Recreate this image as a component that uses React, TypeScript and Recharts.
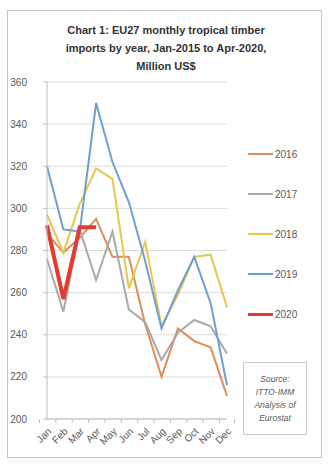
import React from "react"
import { CartesianGrid, Line, LineChart, XAxis, YAxis } from "recharts"

const months = ["Jan", "Feb", "Mar", "Apr", "May", "Jun", "Jul", "Aug", "Sep", "Oct", "Nov", "Dec"]
const y2016 = [288, 279, 286, 295, 277, 277, 245, 220, 243, 237, 234, 211]
const y2017 = [276, 251, 290, 266, 289, 252, 246, 228, 241, 247, 244, 231]
const y2018 = [297, 279, 302, 319, 314, 262, 284, 244, 259, 277, 278, 253]
const y2019 = [320, 290, 289, 350, 322, 303, 275, 243, 261, 277, 255, 216]
const y2020 = [292, 257, 291, 291]
const yTicks = [200, 220, 240, 260, 280, 300, 320, 340, 360]

const data = months.map((m, i) => ({
  month: m,
  "2016": y2016[i],
  "2017": y2017[i],
  "2018": y2018[i],
  "2019": y2019[i],
  "2020": y2020[i],
}))

const series = [
  { key: "2016", color: "#dc8f58", width: 2 },
  { key: "2017", color: "#a9a9a9", width: 2 },
  { key: "2018", color: "#e4c84e", width: 2 },
  { key: "2019", color: "#6f9fd2", width: 2 },
  { key: "2020", color: "#e23a35", width: 4 },
]

const FONT = "'Liberation Sans', Arial, sans-serif"
const TEXT = "#595959"

function MonthTick(props: any) {
  const { x = 0, y = 0, payload, index } = props
  const half = 7.5
  return (
    <g>
      <line x1={x - half} y1={y - 14} x2={x - half} y2={y - 10} stroke="#bfbfbf" />
      {index === 11 && <line x1={x + half} y1={y - 14} x2={x + half} y2={y - 10} stroke="#bfbfbf" />}
      <text
        transform={`translate(${x + 5},${y - 1}) rotate(-45)`}
        textAnchor="end"
        fill={TEXT}
        fontSize={10}
        fontFamily={FONT}
      >
        {payload.value}
      </text>
    </g>
  )
}

export default function App() {
  return (
    <div style={{ position: "absolute", left: 0, top: 0, width: 328, height: 468, background: "#fff" }}>
      <div
        style={{
          position: "absolute",
          left: 7,
          top: 10,
          width: 315,
          height: 448,
          border: "1px solid #c4c4c4",
          boxSizing: "border-box",
        }}
      />
      <div
        style={{
          position: "absolute",
          left: 20,
          top: 21,
          width: 292,
          textAlign: "center",
          fontFamily: FONT,
          fontWeight: 700,
          fontSize: 11,
          lineHeight: "18px",
          color: "#333",
        }}
      >
        Chart 1: EU27 monthly tropical timber
        <br />
        imports by year, Jan-2015 to Apr-2020,
        <br />
        Million US$
      </div>
      <div style={{ position: "absolute", left: 0, top: 0 }}>
        <LineChart width={328} height={468} data={data} margin={{ top: 82, right: 101, left: 7, bottom: 9 }}>
          <CartesianGrid vertical={false} stroke="#dcdcdc" />
          <XAxis
            dataKey="month"
            height={40}
            axisLine={{ stroke: "#bfbfbf" }}
            tickLine={false}
            interval={0}
            tick={<MonthTick />}
            tickMargin={8}
          />
          <YAxis
            width={40}
            domain={[200, 360]}
            ticks={yTicks}
            axisLine={{ stroke: "#bfbfbf" }}
            tickLine={{ stroke: "#bfbfbf" }}
            tickSize={4}
            tickMargin={16}
            tick={{ fill: TEXT, fontSize: 10, fontFamily: FONT }}
          />
          {series.map((s) => (
            <Line
              key={s.key}
              dataKey={s.key}
              stroke={s.color}
              strokeWidth={s.width}
              dot={false}
              type="linear"
              isAnimationActive={false}
            />
          ))}
        </LineChart>
      </div>
      <div style={{ position: "absolute", left: 248, top: 134, width: 70 }}>
        {series.map((s) => (
          <div key={s.key} style={{ display: "flex", alignItems: "center", height: 40 }}>
            <div style={{ width: 25, height: s.width === 4 ? 3 : 2, background: s.color, marginRight: 2 }} />
            <span style={{ fontSize: 10, color: TEXT, fontFamily: FONT }}>{s.key}</span>
          </div>
        ))}
      </div>
      <div
        style={{
          position: "absolute",
          left: 243,
          top: 362,
          width: 64,
          height: 73,
          border: "1px solid #c8c8c8",
          boxSizing: "border-box",
          display: "flex",
          flexDirection: "column",
          justifyContent: "center",
          alignItems: "center",
          fontFamily: FONT,
          fontStyle: "italic",
          fontSize: 8.5,
          lineHeight: "13px",
          color: TEXT,
          textAlign: "center",
        }}
      >
        <div>Source:</div>
        <div>ITTO-IMM</div>
        <div>Analysis of</div>
        <div>Eurostat</div>
      </div>
    </div>
  )
}
